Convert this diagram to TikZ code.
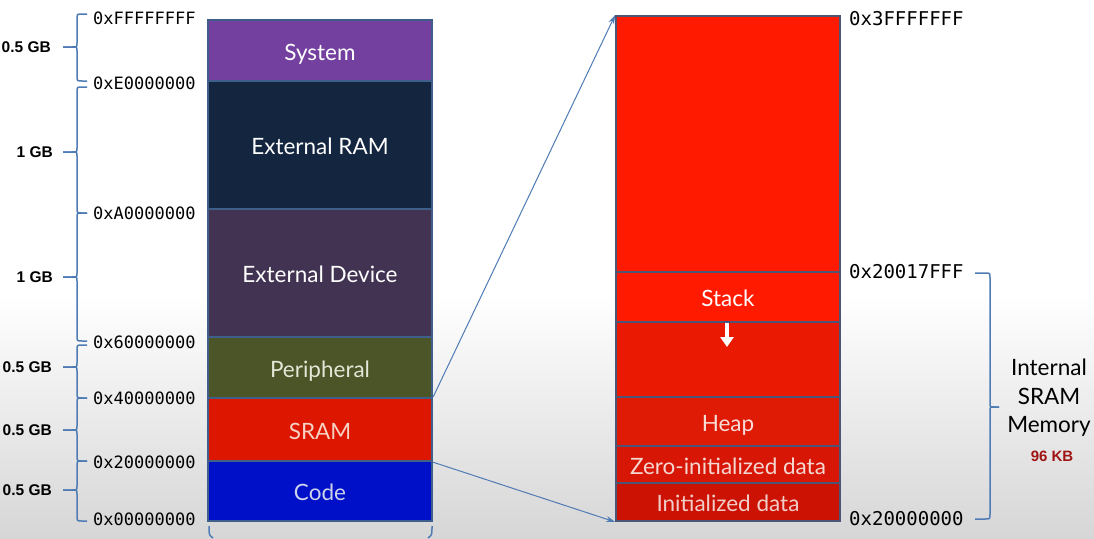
\documentclass[tikz,border=0pt]{standalone}
\usepackage{fontspec}
\setmainfont{Lato}
\newfontfamily\monof{DejaVu Sans Mono}
\newfontfamily\arialf{Liberation Sans}
\usetikzlibrary{arrows.meta}
\definecolor{bggray}{HTML}{D6D6D6}
\definecolor{lborder}{HTML}{3E5F8A}
\definecolor{rborder}{HTML}{4A5578}
\definecolor{connc}{HTML}{4F7BB5}
\definecolor{csys}{HTML}{7440A0}
\definecolor{ceram}{HTML}{13253F}
\definecolor{cedev}{HTML}{433352}
\definecolor{cper}{HTML}{4B5528}
\definecolor{csram}{HTML}{DD1600}
\definecolor{ccode}{HTML}{0010C8}
\definecolor{rtopc}{HTML}{FF1A00}
\definecolor{rgapc}{HTML}{EA1A02}
\definecolor{rheapc}{HTML}{DF1A05}
\definecolor{rzeroc}{HTML}{D81606}
\definecolor{rinitc}{HTML}{CC1202}
\definecolor{kbred}{HTML}{A01414}
\tikzset{
  boxtext/.style={text height=12pt, text depth=-4pt, font=\fontsize{22.5}{26}\selectfont},
  lbox/.style={draw=lborder, line width=2.5pt, minimum width=224pt, inner sep=0pt, text=white, boxtext},
  rbox/.style={draw=rborder, line width=1.8pt, minimum width=224pt, inner sep=0pt, text=white, boxtext},
  lbl/.style={inner sep=0pt, yshift=-3.5pt, font=\fontsize{22.5}{26}\selectfont},
  laddr/.style={anchor=west, inner sep=0pt, font=\monof\fontsize{17}{18}\selectfont},
  raddr/.style={anchor=west, inner sep=0pt, font=\monof\fontsize{19}{20}\selectfont},
  gb/.style={anchor=east, inner sep=0pt, font=\arialf\bfseries\fontsize{15.5}{16}\selectfont},
  bracec/.style={draw=connc, line width=1.5pt},
  conn/.style={draw=connc, line width=1pt, -{Stealth[length=9pt,width=6pt]}}
}
\newcommand{\lbr}[3]{% y1, ymid, y2
  \draw[bracec] (87,#1) -- (82,#1) .. controls (77,#1) .. (77,#1+5) -- (77,#2-4) .. controls (77,#2) .. (72,#2) -- (63,#2);
  \draw[bracec] (63,#2) -- (72,#2) .. controls (77,#2) .. (77,#2+4) -- (77,#3-5) .. controls (77,#3) .. (82,#3) -- (87,#3);
}
\begin{document}
\begin{tikzpicture}[x=1pt,y=-1pt]
\useasboundingbox (0,0) rectangle (1094,538);
\fill[white] (0,0) rectangle (1094,295);
\shade[top color=white, bottom color=bggray] (0,295) rectangle (1094,538);

% left column
\node[lbox, fill=csys,  minimum height=61pt]  (sys)  at (320,50.5)  {};
\node[lbox, fill=ceram, minimum height=128pt] (eram) at (320,145)   {};
\node[lbox, fill=cedev, minimum height=128pt] (edev) at (320,273)   {};
\node[lbox, fill=cper,  minimum height=61pt]  (per)  at (320,367.5) {};
\node[lbox, fill=csram, minimum height=63pt]  (sram) at (320,429.5) {};
\node[lbox, fill=ccode, minimum height=60pt]  (code) at (320,491)   {};
\node[lbl, boxtext, text=white] (tsys) at (sys.center) {System};
\node[lbl, boxtext, text=white] (teram) at (eram.center) {External RAM};
\node[lbl, boxtext, text=white] (tedev) at (edev.center) {External Device};
\node[lbl, boxtext, text={rgb,255:red,228;green,230;blue,215}] (tper) at (per.center) {Peripheral};
\node[lbl, boxtext, text={rgb,255:red,245;green,210;blue,195}] (tsram) at (sram.center) {SRAM};
\node[lbl, boxtext, text={rgb,255:red,205;green,210;blue,235}] (tcode) at (code.center) {Code};

% left addresses
\node[laddr] (a0) at (93,18)  {0xFFFFFFFF};
\node[laddr] (a1) at (93,83)  {0xE0000000};
\node[laddr] (a2) at (93,213) {0xA0000000};
\node[laddr] (a3) at (93,342) {0x60000000};
\node[laddr] (a4) at (93,398) {0x40000000};
\node[laddr] (a5) at (93,462) {0x20000000};
\node[laddr] (a6) at (93,519) {0x00000000};

% sizes
\node[gb] (g0) at (51,47)  {0.5 GB};
\node[gb] (g1) at (53,152) {1 GB};
\node[gb] (g2) at (53,277) {1 GB};
\node[gb] (g3) at (52,367) {0.5 GB};
\node[gb] (g4) at (52,430) {0.5 GB};
\node[gb] (g5) at (52,490) {0.5 GB};

% left braces
\lbr{14}{47}{81}
\lbr{87}{152}{213}
\lbr{213}{277}{341}
\lbr{345}{367}{398}
\lbr{398}{430}{461}
\lbr{461}{490}{521}

% partial brace below left column
\draw[bracec] (209,526) .. controls (209,535) .. (213,538);
\draw[bracec] (432,526) .. controls (432,535) .. (428,538);

% right column
\node[rbox, fill=rtopc,  minimum height=256pt] (rtop)  at (728,144)   {};
\node[rbox, fill=rtopc,  minimum height=50pt]  (stack) at (728,297)   {};
\node[rbox, fill=rgapc,  minimum height=75pt]  (gap)   at (728,359.5) {};
\node[rbox, fill=rheapc, minimum height=49pt]  (heap)  at (728,421.5) {};
\node[rbox, fill=rzeroc, minimum height=37pt]  (zero)  at (728,464.5) {};
\node[rbox, fill=rinitc, minimum height=38pt]  (init)  at (728,502)   {};
\node[lbl, boxtext, text=white] (tstack) at (stack.center) {Stack};
\node[lbl, boxtext, text={rgb,255:red,248;green,220;blue,215}] (theap) at (heap.center) {Heap};
\node[lbl, boxtext, text={rgb,255:red,245;green,215;blue,210}] (tzero) at (zero.center) {Zero-initialized data};
\node[lbl, boxtext, text={rgb,255:red,240;green,205;blue,200}] (tinit) at (init.center) {Initialized data};

% stack growth arrow
\coordinate (sa1) at (727,323);
\coordinate (sa2) at (727,347);
\draw[white, line width=3.5pt, -{Triangle[length=10pt,width=13pt]}] (sa1) -- (sa2);

% right addresses
\node[raddr] (r0) at (849,19)  {0x3FFFFFFF};
\node[raddr] (r1) at (849,272) {0x20017FFF};
\node[raddr] (r2) at (849,519) {0x20000000};

% right brace
\draw[bracec] (975,273) -- (985,273) .. controls (990,273) .. (990,278) -- (990,403) .. controls (990,407) .. (994,407) -- (999,407);
\draw[bracec] (999,407) -- (994,407) .. controls (990,407) .. (990,411) -- (990,514) .. controls (990,519) .. (985,519) -- (975,519);

\node[align=center, inner sep=0pt, font=\fontsize{22.5}{28.5}\selectfont] (isr) at (1049,398) {Internal\\SRAM\\Memory};
\node[inner sep=0pt, text=kbred, font=\arialf\bfseries\fontsize{15}{16}\selectfont] (kb) at (1052,456) {96 KB};

% zoom connectors
\draw[conn] (sram.north east) -- (rtop.north west);
\draw[conn] (sram.south east) -- (init.south west);
\end{tikzpicture}
\end{document}
